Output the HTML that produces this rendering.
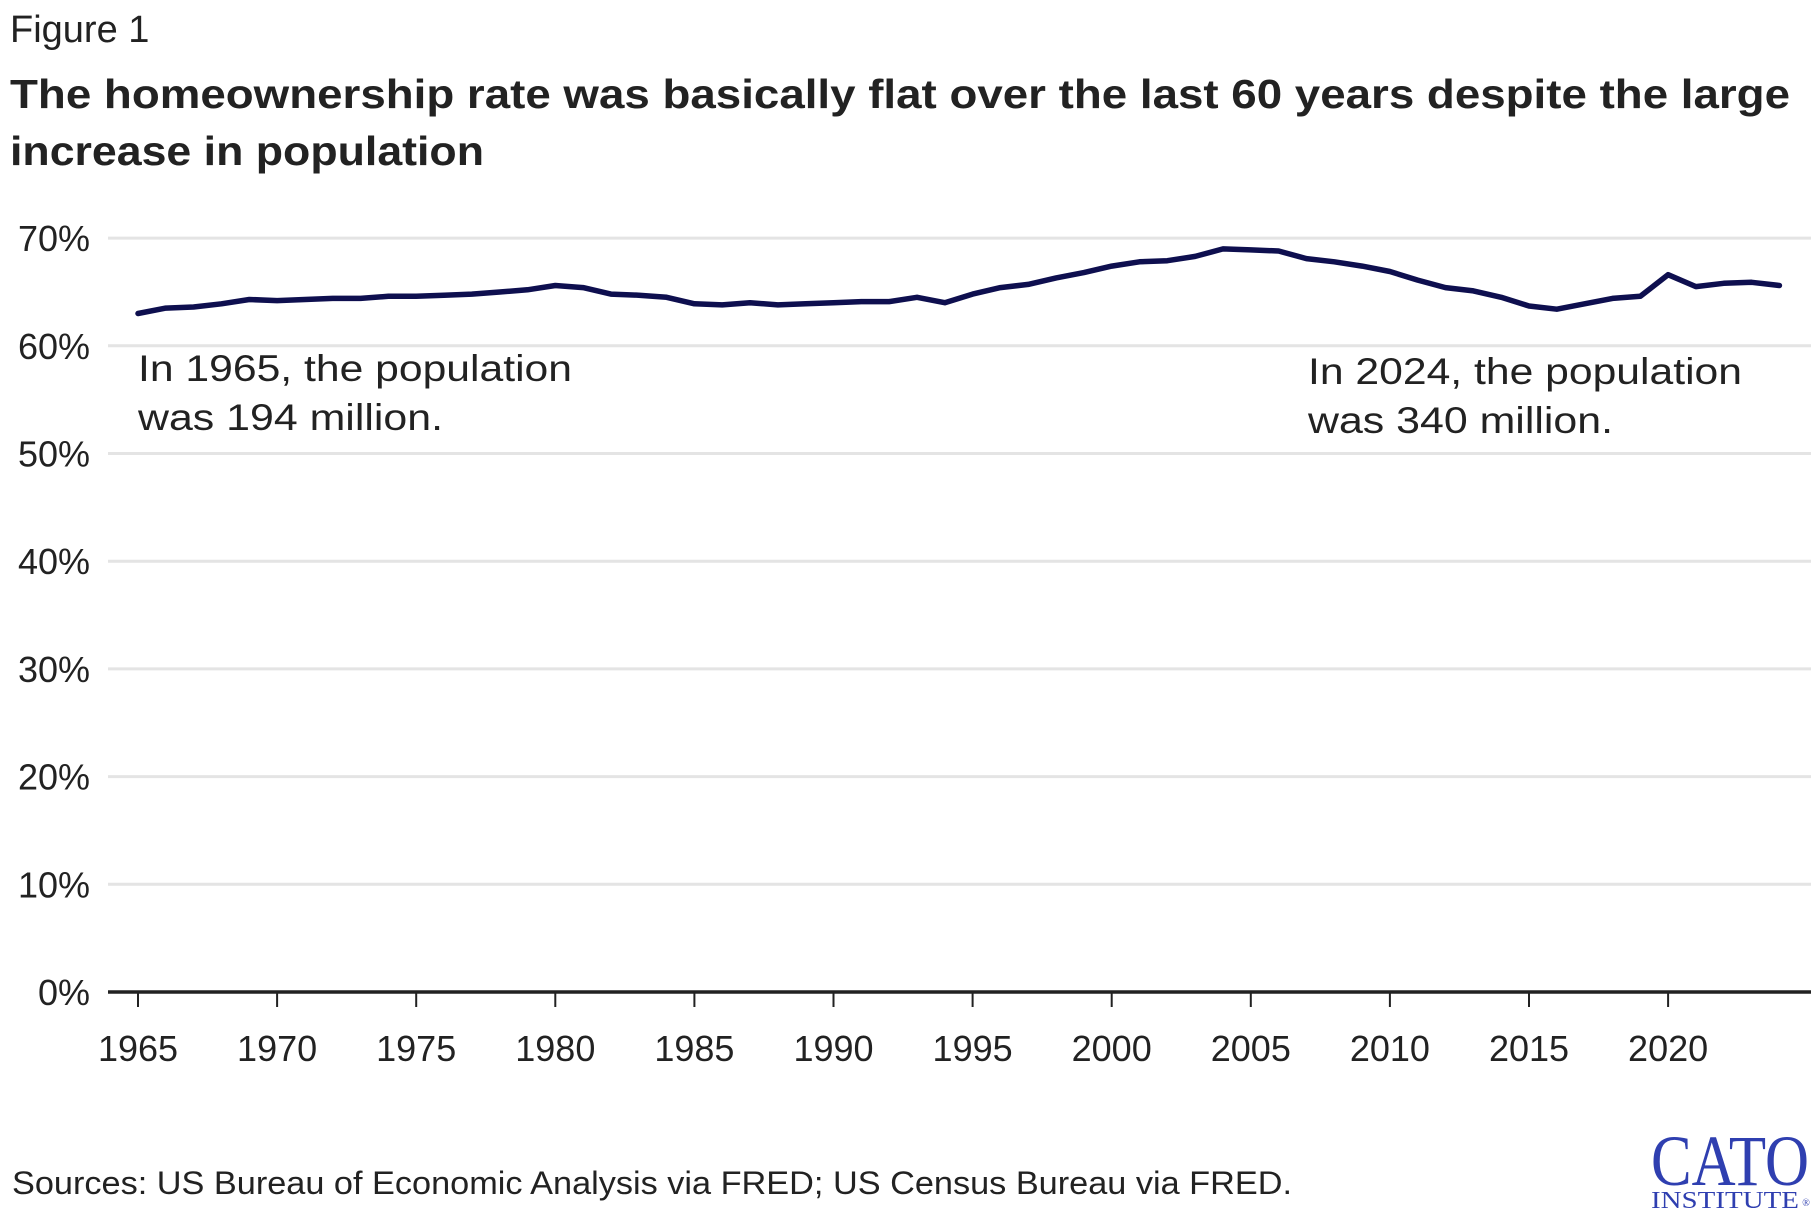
<!DOCTYPE html>
<html><head><meta charset="utf-8"><style>
html,body{margin:0;padding:0;background:#fff;}
svg{display:block;font-family:"Liberation Sans",Arial,sans-serif;}
</style></head><body>
<svg id="chart" width="1820" height="1220" viewBox="0 0 1820 1220" xmlns="http://www.w3.org/2000/svg">
<text x="10" y="42" font-size="38" fill="#222">Figure 1</text>
<text x="10" y="108" font-size="41" font-weight="bold" fill="#222" textLength="1780" lengthAdjust="spacingAndGlyphs">The homeownership rate was basically flat over the last 60 years despite the large</text>
<text x="10" y="165" font-size="41" font-weight="bold" fill="#222" textLength="474" lengthAdjust="spacingAndGlyphs">increase in population</text>
<g id="grid"></g>
<g id="yticks"></g>
<g id="xticks"></g>
<path id="line" fill="none" stroke="#0e0f4f" stroke-width="5.5" stroke-linejoin="round" stroke-linecap="round"/>
<g>
<text x="138" y="381" font-size="37" fill="#222" textLength="434" lengthAdjust="spacingAndGlyphs">In 1965, the population</text>
<text x="138" y="430" font-size="37" fill="#222" textLength="305" lengthAdjust="spacingAndGlyphs">was 194 million.</text>
</g>
<g>
<text x="1308" y="384" font-size="37" fill="#222" textLength="434" lengthAdjust="spacingAndGlyphs">In 2024, the population</text>
<text x="1308" y="433" font-size="37" fill="#222" textLength="305" lengthAdjust="spacingAndGlyphs">was 340 million.</text>
</g>
<text x="12" y="1194" font-size="32" fill="#222" textLength="1280" lengthAdjust="spacingAndGlyphs">Sources: US Bureau of Economic Analysis via FRED; US Census Bureau via FRED.</text>
<g fill="#2f3fb0" font-family="'Liberation Serif',serif">
<text x="1730" y="1185" font-size="72" text-anchor="middle" textLength="158" lengthAdjust="spacingAndGlyphs">CATO</text>
<text x="1725" y="1208" font-size="24" text-anchor="middle" textLength="148" lengthAdjust="spacingAndGlyphs">INSTITUTE</text>
<text x="1806" y="1206" font-size="10" text-anchor="middle">®</text>
</g>
</svg>
<script>
const years = [];
for (let y = 1965; y <= 2024; y++) years.push(y);
const rates = [63.0,63.5,63.6,63.9,64.3,64.2,64.3,64.4,64.4,64.6,64.6,64.7,64.8,65.0,65.2,65.6,65.4,64.8,64.7,64.5,63.9,63.8,64.0,63.8,63.9,64.0,64.1,64.1,64.5,64.0,64.8,65.4,65.7,66.3,66.8,67.4,67.8,67.9,68.3,69.0,68.9,68.8,68.1,67.8,67.4,66.9,66.1,65.4,65.1,64.5,63.7,63.4,63.9,64.4,64.6,66.6,65.5,65.8,65.9,65.6];
const yTicks = [0,10,20,30,40,50,60,70];
const xTicks = [1965,1970,1975,1980,1985,1990,1995,2000,2005,2010,2015,2020];

const NS = "http://www.w3.org/2000/svg";
const X = yr => 138 + (yr - 1965) * 27.82;
const Y = v => 992 - v * 10.77;

const grid = document.getElementById('grid');
const yt = document.getElementById('yticks');
yTicks.forEach(t => {
  if (t > 0) {
    const l = document.createElementNS(NS, 'line');
    
    
    l.setAttribute('x1', 108); l.setAttribute('x2', 1811);
    l.setAttribute('y1', Y(t)); l.setAttribute('y2', Y(t));
    l.setAttribute('stroke', '#e4e4e4'); l.setAttribute('stroke-width', 3);
    grid.appendChild(l);
  }
  const tx = document.createElementNS(NS, 'text');
  
  
  tx.setAttribute('x', 90); tx.setAttribute('y', Y(t) + 13);
  tx.setAttribute('text-anchor', 'end');
  tx.setAttribute('font-size', 36); tx.setAttribute('fill', '#222');
  tx.textContent = t + '%';
  yt.appendChild(tx);
});
const base = document.createElementNS(NS, 'line');


base.setAttribute('x1', 108); base.setAttribute('x2', 1811);
base.setAttribute('y1', 992); base.setAttribute('y2', 992);
base.setAttribute('stroke', '#222'); base.setAttribute('stroke-width', 3.5);
grid.appendChild(base);

const xt = document.getElementById('xticks');
xTicks.forEach(t => {
  const l = document.createElementNS(NS, 'line');
  
  
  l.setAttribute('x1', X(t)); l.setAttribute('x2', X(t));
  l.setAttribute('y1', 992); l.setAttribute('y2', 1007);
  l.setAttribute('stroke', '#222'); l.setAttribute('stroke-width', 2);
  xt.appendChild(l);
  const tx = document.createElementNS(NS, 'text');
  
  
  tx.setAttribute('x', X(t)); tx.setAttribute('y', 1061);
  tx.setAttribute('text-anchor', 'middle');
  tx.setAttribute('font-size', 36); tx.setAttribute('fill', '#222');
  tx.textContent = t;
  xt.appendChild(tx);
});

document.getElementById('line').setAttribute('d',
  years.map((yr, i) => (i ? 'L' : 'M') + X(yr).toFixed(1) + ' ' + Y(rates[i]).toFixed(1)).join(' '));
</script>
</body></html>
